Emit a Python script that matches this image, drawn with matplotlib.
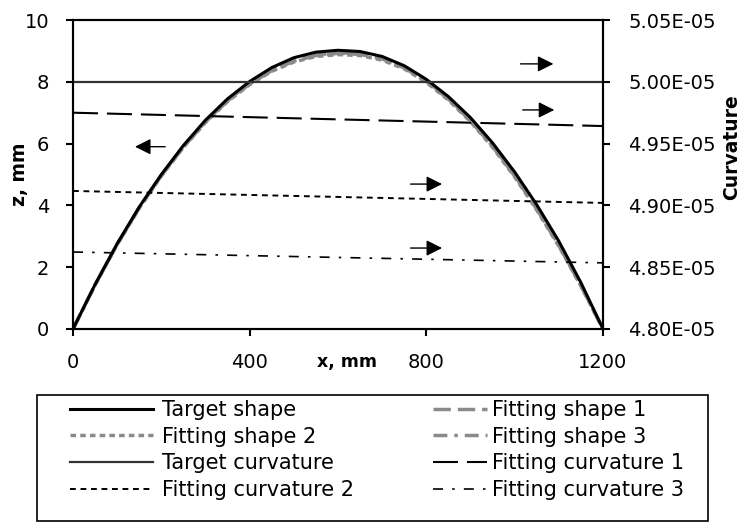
import matplotlib.pyplot as plt
from matplotlib.patches import Rectangle
from matplotlib.ticker import FuncFormatter

plt.rcParams['font.family'] = ['DejaVu Sans']

# shape data (mm)
x_shape = [0, 50, 100, 150, 200, 250, 300, 350, 400, 450, 500, 550, 600,
           650, 700, 750, 800, 850, 900, 950, 1000, 1050, 1100, 1150, 1200]
target_shape = [0, 1.44, 2.76, 3.95, 5.00, 5.94, 6.76, 7.45, 8.01, 8.46, 8.78, 8.96, 9.02,
                8.98, 8.82, 8.52, 8.08, 7.52, 6.84, 6.02, 5.08, 4.02, 2.84, 1.50, 0]
fit_shape_1 = [0, 1.43, 2.74, 3.92, 4.96, 5.89, 6.70, 7.38, 7.93, 8.36, 8.67, 8.85, 8.92,
               8.89, 8.74, 8.45, 8.01, 7.44, 6.74, 5.91, 4.95, 3.88, 2.70, 1.40, 0]
fit_shape_2 = [0, 1.42, 2.73, 3.91, 4.95, 5.88, 6.68, 7.36, 7.91, 8.34, 8.64, 8.82, 8.88,
               8.85, 8.70, 8.42, 7.98, 7.41, 6.71, 5.88, 4.92, 3.85, 2.68, 1.39, 0]
fit_shape_3 = [0, 1.43, 2.75, 3.93, 4.97, 5.90, 6.71, 7.40, 7.95, 8.38, 8.69, 8.87, 8.94,
               8.91, 8.76, 8.47, 8.03, 7.46, 6.76, 5.93, 4.97, 3.90, 2.72, 1.41, 0]

# curvature data
x_curv = [0, 1200]
target_curv = [5.00e-5, 5.00e-5]
fit_curv_1 = [4.9750e-5, 4.9642e-5]
fit_curv_2 = [4.9117e-5, 4.9020e-5]
fit_curv_3 = [4.8623e-5, 4.8535e-5]

W, H = 742, 523
fig = plt.figure(figsize=(W / 100, H / 100), dpi=100)
ax = fig.add_axes([73 / W, 1 - 329 / H, 530 / W, 309 / H])
ax2 = ax.twinx()

gray = '#8a8a8a'
h_fs1, = ax.plot(x_shape, fit_shape_1, color=gray, lw=2.5, ls=(0, (5, 2)))
h_fs2, = ax.plot(x_shape, fit_shape_2, color=gray, lw=2.5, ls=(0, (1.6, 1.2)))
h_fs3, = ax.plot(x_shape, fit_shape_3, color=gray, lw=2.5, ls=(0, (4, 2, 1, 2)))
h_ts, = ax.plot(x_shape, target_shape, color='black', lw=2.2)

h_tc, = ax2.plot(x_curv, target_curv, color='#333333', lw=1.6)
h_fc1, = ax2.plot(x_curv, fit_curv_1, color='black', lw=1.5, ls=(0, (12, 4.3)))
h_fc2, = ax2.plot(x_curv, fit_curv_2, color='black', lw=1.4, ls=(0, (3, 2.4)))
h_fc3, = ax2.plot(x_curv, fit_curv_3, color='black', lw=1.2, ls=(0, (6, 5.5, 1.5, 5.5)))

ax.set_xlim(0, 1200)
ax.set_ylim(0, 10)
ax2.set_ylim(4.80e-5, 5.05e-5)
ax.set_xticks([0, 400, 800, 1200])
ax.set_yticks([0, 2, 4, 6, 8, 10])
ax2.set_yticks([4.80e-5, 4.85e-5, 4.90e-5, 4.95e-5, 5.00e-5, 5.05e-5])
ax2.yaxis.set_major_formatter(FuncFormatter(lambda v, p: f'{v:.2E}'))

for a in (ax, ax2):
    for s in a.spines.values():
        s.set_linewidth(1.5)
ax.tick_params(axis='both', direction='out', length=5, width=1.5, labelsize=14, pad=12)
ax2.tick_params(axis='y', direction='out', length=5, width=1.5, labelsize=14, pad=13)

ax.set_xlabel('x, mm', fontsize=12.5, fontweight='bold', va='center')
ax.xaxis.set_label_coords(0.517, -0.107)
ax.set_ylabel('z, mm', fontsize=13.5, fontweight='bold', va='center')
ax.yaxis.set_label_coords(-0.1, 0.5)
ax2.set_ylabel('Curvature', fontsize=13.5, fontweight='bold', va='center', ha='center', rotation=90)
ax2.yaxis.set_label_coords(1.243, 0.589)

# direction arrows
arrow = dict(arrowstyle='-|>', color='black', lw=1, mutation_scale=24)
ax.annotate('', xy=(134, 5.9), xytext=(215, 5.9), arrowprops=arrow)
ax.annotate('', xy=(1094, 8.58), xytext=(1007, 8.58), arrowprops=arrow)
ax.annotate('', xy=(1096, 7.09), xytext=(1012, 7.09), arrowprops=arrow)
ax.annotate('', xy=(842, 4.69), xytext=(758, 4.69), arrowprops=arrow)
ax.annotate('', xy=(842, 2.62), xytext=(758, 2.62), arrowprops=arrow)

# legend: two columns with their own handle lengths, one shared frame
common = dict(loc='upper left', fontsize=15, frameon=False, borderpad=0,
              borderaxespad=0, labelspacing=0.32)
leg1 = fig.legend([h_ts, h_fs2, h_tc, h_fc2],
                  ['Target shape', 'Fitting shape 2', 'Target curvature', 'Fitting curvature 2'],
                  bbox_to_anchor=(70 / W, 1 - 400 / H), handlelength=4.0,
                  handletextpad=0.43, **common)
leg2 = fig.legend([h_fs1, h_fs3, h_fc1, h_fc3],
                  ['Fitting shape 1', 'Fitting shape 3', 'Fitting curvature 1', 'Fitting curvature 3'],
                  bbox_to_anchor=(433 / W, 1 - 400 / H), handlelength=2.6,
                  handletextpad=0.25, **common)
fig.add_artist(Rectangle((37 / W, 2 / H), 671 / W, 126 / H, transform=fig.transFigure,
                         fill=False, edgecolor='black', lw=1.2))

fig.savefig('out.png', dpi=100)
